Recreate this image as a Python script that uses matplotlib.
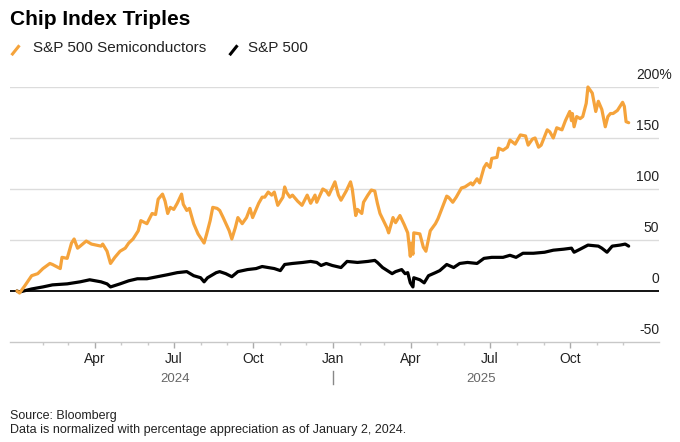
import matplotlib
matplotlib.use('Agg')
import matplotlib.pyplot as plt
import matplotlib.transforms as mtransforms
from matplotlib.lines import Line2D
import pandas as pd

plt.rcParams['font.family'] = ['Liberation Sans', 'DejaVu Sans']

# S&P 500 Semiconductors, % change since Jan 2, 2024
semi_dates = [
    "2024-01-02", "2024-01-05", "2024-01-11", "2024-01-19", "2024-01-26", "2024-02-01",
    "2024-02-09", "2024-02-12", "2024-02-21", "2024-02-23", "2024-02-29", "2024-03-05",
    "2024-03-08", "2024-03-12", "2024-03-15", "2024-03-22", "2024-03-28", "2024-04-08",
    "2024-04-10", "2024-04-15", "2024-04-19", "2024-04-24", "2024-04-30", "2024-05-06",
    "2024-05-10", "2024-05-15", "2024-05-21", "2024-05-24", "2024-05-31", "2024-06-06",
    "2024-06-10", "2024-06-13", "2024-06-18", "2024-06-21", "2024-06-24", "2024-06-27",
    "2024-07-01", "2024-07-05", "2024-07-10", "2024-07-12", "2024-07-16", "2024-07-19",
    "2024-07-24", "2024-07-29", "2024-08-05", "2024-08-08", "2024-08-12", "2024-08-15",
    "2024-08-20", "2024-08-23", "2024-08-27", "2024-09-03", "2024-09-06", "2024-09-10",
    "2024-09-13", "2024-09-18", "2024-09-23", "2024-09-27", "2024-09-30", "2024-10-07",
    "2024-10-11", "2024-10-14", "2024-10-18", "2024-10-22", "2024-10-25", "2024-10-29",
    "2024-11-04", "2024-11-06", "2024-11-08", "2024-11-12", "2024-11-15", "2024-11-21",
    "2024-11-26", "2024-12-02", "2024-12-06", "2024-12-11", "2024-12-13", "2024-12-20",
    "2024-12-24", "2024-12-27", "2025-01-03", "2025-01-07", "2025-01-10", "2025-01-16",
    "2025-01-21", "2025-01-23", "2025-01-27", "2025-01-29", "2025-02-03", "2025-02-05",
    "2025-02-10", "2025-02-14", "2025-02-18", "2025-02-21", "2025-02-24", "2025-02-28",
    "2025-03-04", "2025-03-06", "2025-03-11", "2025-03-14", "2025-03-19", "2025-03-24",
    "2025-03-28", "2025-03-31", "2025-04-01", "2025-04-03", "2025-04-04", "2025-04-11",
    "2025-04-15", "2025-04-18", "2025-04-23", "2025-04-29", "2025-05-02", "2025-05-07",
    "2025-05-12", "2025-05-14", "2025-05-19", "2025-05-23", "2025-05-29", "2025-06-02",
    "2025-06-09", "2025-06-11", "2025-06-16", "2025-06-19", "2025-06-24", "2025-06-27",
    "2025-07-01", "2025-07-03", "2025-07-09", "2025-07-11", "2025-07-16", "2025-07-21",
    "2025-07-24", "2025-07-30", "2025-08-05", "2025-08-11", "2025-08-14", "2025-08-19",
    "2025-08-22", "2025-08-26", "2025-08-29", "2025-09-05", "2025-09-08", "2025-09-12",
    "2025-09-16", "2025-09-22", "2025-09-26", "2025-10-01", "2025-10-03", "2025-10-04",
    "2025-10-06", "2025-10-09", "2025-10-13", "2025-10-16", "2025-10-20", "2025-10-22",
    "2025-10-27", "2025-10-31", "2025-11-03", "2025-11-07", "2025-11-11", "2025-11-14",
    "2025-11-17", "2025-11-20", "2025-11-25", "2025-12-01", "2025-12-03", "2025-12-05",
    "2025-12-08",
]
semi_vals = [
    0, -2, 5, 15, 17, 22,
    27, 26, 22, 33, 32, 47,
    51, 42, 44, 49, 46, 44,
    46, 39, 27, 33, 39, 42,
    47, 51, 59, 69, 66, 76,
    75, 90, 95, 88, 76, 82,
    80, 86, 95, 85, 79, 81,
    66, 56, 47, 56, 69, 82,
    81, 79, 72, 59, 51, 62,
    72, 66, 72, 81, 72, 86,
    92, 92, 97, 94, 97, 84,
    92, 102, 97, 92, 94, 88,
    84, 94, 86, 94, 87, 100,
    98, 94, 107, 94, 89, 98,
    107, 100, 74, 80, 76, 87,
    94, 99, 98, 86, 76, 69,
    62, 57, 72, 67, 74, 65,
    57, 34, 47, 36, 57, 56,
    43, 39, 59, 66, 71, 82,
    93, 92, 87, 92, 101, 102,
    106, 104, 110, 106, 121, 125,
    121, 130, 131, 140, 138, 141,
    148, 144, 153, 152, 143, 149,
    150, 141, 143, 158, 156, 150,
    160, 158, 167, 176, 167, 174,
    161, 171, 169, 171, 184, 200,
    194, 176, 186, 178, 161, 171,
    174, 174, 177, 185, 181, 166,
    165,
]

# S&P 500, % change since Jan 2, 2024
spx_dates = [
    "2024-01-02", "2024-01-05", "2024-01-19", "2024-02-01", "2024-02-12", "2024-02-29",
    "2024-03-15", "2024-03-26", "2024-04-08", "2024-04-15", "2024-04-19", "2024-04-30",
    "2024-05-10", "2024-05-20", "2024-05-31", "2024-06-12", "2024-06-24", "2024-07-05",
    "2024-07-16", "2024-07-24", "2024-08-01", "2024-08-05", "2024-08-09", "2024-08-19",
    "2024-08-23", "2024-08-30", "2024-09-06", "2024-09-13", "2024-09-24", "2024-10-04",
    "2024-10-11", "2024-10-25", "2024-11-01", "2024-11-06", "2024-11-15", "2024-11-27",
    "2024-12-06", "2024-12-13", "2024-12-18", "2024-12-24", "2024-12-31", "2025-01-10",
    "2025-01-17", "2025-01-29", "2025-02-10", "2025-02-18", "2025-02-21", "2025-02-27",
    "2025-03-10", "2025-03-14", "2025-03-21", "2025-03-25", "2025-03-28", "2025-03-31",
    "2025-04-03", "2025-04-04", "2025-04-11", "2025-04-16", "2025-04-21", "2025-04-29",
    "2025-05-04", "2025-05-12", "2025-05-20", "2025-05-27", "2025-06-05", "2025-06-16",
    "2025-06-24", "2025-07-03", "2025-07-16", "2025-07-24", "2025-07-31", "2025-08-08",
    "2025-08-20", "2025-09-02", "2025-09-12", "2025-09-24", "2025-10-03", "2025-10-06",
    "2025-10-13", "2025-10-22", "2025-11-03", "2025-11-07", "2025-11-13", "2025-11-19",
    "2025-11-28", "2025-12-04", "2025-12-08",
]
spx_vals = [
    0, -1, 2, 4, 6, 7,
    9, 11, 9, 7, 4, 7,
    10, 12, 12, 14, 16, 18,
    19, 15, 13, 9, 13, 18,
    19, 17, 14, 19, 21, 22,
    24, 22, 20, 26, 27, 28,
    29, 28, 25, 27, 25, 23,
    29, 28, 29, 30, 28, 23,
    17, 19, 21, 17, 18, 8,
    4, 13, 11, 8, 15, 18,
    20, 26, 23, 27, 28, 27,
    32, 33, 33, 35, 33, 37,
    37, 38, 40, 41, 42, 38,
    41, 45, 44, 42, 38, 44,
    45, 46, 44,
]

ytick_vals = [-50, 0, 50, 100, 150, 200]
ytick_labels = ["-50", "0", "50", "100", "150", "200%"]
month_ticks = ["2024-04-01", "2024-07-01", "2024-10-01", "2025-01-01",
               "2025-04-01", "2025-07-01", "2025-10-01"]
month_labels = ["Apr", "Jul", "Oct", "Jan", "Apr", "Jul", "Oct"]
years = ["2024", "2025"]

ORANGE = '#f5a33b'
W, H = 680, 442

fig = plt.figure(figsize=(W / 100, H / 100), dpi=100)
ax = fig.add_axes([10 / W, 1 - 342 / H, 649 / W, 255 / H])

semi_d = pd.to_datetime(semi_dates)
spx_d = pd.to_datetime(spx_dates)

# grid + zero line
for v in ytick_vals[2:]:
    ax.axhline(v, color='#dcdcdc', lw=1, zorder=1)
ax.axhline(0, color='black', lw=1.3, zorder=2)

ax.plot(spx_d, spx_vals, color='black', lw=2.3, solid_joinstyle='round',
        solid_capstyle='round', zorder=3, clip_on=False)
ax.plot(semi_d, semi_vals, color=ORANGE, lw=2.3, solid_joinstyle='round',
        solid_capstyle='round', zorder=4, clip_on=False)

ax.set_ylim(-50, 200)
ax.set_xlim(pd.Timestamp('2023-12-25'), pd.Timestamp('2026-01-12'))

for s in ['top', 'left', 'right']:
    ax.spines[s].set_visible(False)
ax.spines['bottom'].set_color('#c8c8c8')
ax.spines['bottom'].set_linewidth(1)

ax.set_yticks([])
ax.set_xticks(pd.to_datetime(month_ticks))
ax.set_xticklabels(month_labels)
ax.set_xticks(pd.date_range('2024-02-01', '2025-12-01', freq='MS'), minor=True)
ax.tick_params(axis='x', which='major', length=4.5, width=1, color='#aaaaaa',
               pad=2.5, labelsize=10, labelcolor='#222222')
ax.tick_params(axis='x', which='minor', length=2, width=1, color='#c8c8c8')

# y labels sit above their gridlines on the right; "%" hangs past the edge
ytrans = mtransforms.blended_transform_factory(ax.transAxes, ax.transData)
lift = mtransforms.ScaledTranslation(0, 8 / 100, fig.dpi_scale_trans)
for v, lab in zip(ytick_vals, ytick_labels):
    xpos = 1.0 + (13 / 649 if lab.endswith('%') else 0)
    ax.text(xpos, v, lab, transform=ytrans + lift, ha='right', va='baseline',
            fontsize=10, color='#222222')

# year row
xtrans = mtransforms.blended_transform_factory(ax.transData, ax.transAxes)
split = pd.Timestamp('2025-01-01')
y_year = (342 - 381.7) / 255
mid24 = semi_d[0] + (split - semi_d[0]) / 2
mid25 = split + (semi_d[-1] - split) / 2
ax.text(mid24, y_year, years[0], transform=xtrans, ha='center', va='baseline',
        fontsize=9.5, color='#666666')
ax.text(mid25, y_year, years[1], transform=xtrans, ha='center', va='baseline',
        fontsize=9.5, color='#666666')
ax.add_line(Line2D([split, split], [(342 - 371) / 255, (342 - 384) / 255],
                   transform=xtrans, color='#888888', lw=1, clip_on=False))

# title and legend
fig.text(10 / W, 1 - 25 / H, 'Chip Index Triples', fontsize=15, fontweight='bold',
         va='baseline', color='black')
fig.add_artist(Line2D([12.5 / W, 18.5 / W], [1 - 54 / H, 1 - 46.5 / H],
                      transform=fig.transFigure, color=ORANGE, lw=2.2))
fig.text(33 / W, 1 - 52 / H, 'S&P 500 Semiconductors', fontsize=11,
         va='baseline', color='#222222')
fig.add_artist(Line2D([230.5 / W, 236.5 / W], [1 - 54 / H, 1 - 46.5 / H],
                      transform=fig.transFigure, color='black', lw=2.2))
fig.text(248 / W, 1 - 52 / H, 'S&P 500', fontsize=11, va='baseline',
         color='#222222')

# footnotes
fig.text(10 / W, 1 - 419.5 / H, 'Source: Bloomberg', fontsize=9, va='baseline',
         color='#222222')
fig.text(10 / W, 1 - 433.5 / H,
         'Data is normalized with percentage appreciation as of January 2, 2024.',
         fontsize=9, va='baseline', color='#222222')

fig.savefig('out.png', dpi=100)
